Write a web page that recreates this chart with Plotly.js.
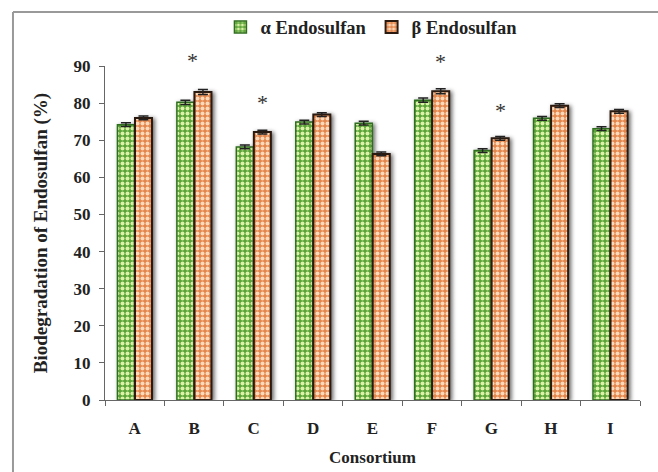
<!DOCTYPE html>
<html>
<head>
<meta charset="utf-8">
<script src="https://cdn.plot.ly/plotly-3.0.1.min.js"></script>
<style>
  html, body { margin: 0; padding: 0; background: #fff; }
  #chart { width: 658px; height: 472px; }
  /* soft shadow behind each bar */
  .barlayer .point path { filter: drop-shadow(2px 1px 2px rgba(0,0,0,0.6)); }
</style>
</head>
<body>
<div id="chart"></div>
<script>
// Consortium labels
const consortia = ['A', 'B', 'C', 'D', 'E', 'F', 'G', 'H', 'I'];

// Biodegradation (%) of each isomer
const alphaValues = [74.2, 80.2, 68.2, 74.9, 74.6, 80.8, 67.2, 75.9, 73.1];
const betaValues  = [76.0, 83.0, 72.2, 76.9, 66.3, 83.2, 70.5, 79.3, 77.8];

// Standard error
const alphaErr = [0.5, 0.6, 0.5, 0.5, 0.5, 0.6, 0.5, 0.5, 0.5];
const betaErr  = [0.5, 0.7, 0.5, 0.5, 0.5, 0.7, 0.5, 0.5, 0.5];

// Significance markers (height in %)
const starCats  = ['B', 'C', 'F', 'G'];
const starY     = [91.6, 80.2, 91.1, 78.0];
const starShift = [-2, 9, 9, 9];

// Y-axis ticks
const yTicks = [0, 10, 20, 30, 40, 50, 60, 70, 80, 90];
const yMax = 90;

const serifBold = 'Liberation Serif, Times New Roman, serif';

const alphaTrace = {
  type: 'bar',
  name: 'α Endosulfan',
  x: consortia,
  y: alphaValues,
  error_y: { type: 'data', array: alphaErr, visible: true, color: '#222', thickness: 1.5, width: 5 },
  marker: {
    color: '#5fa83a',
    line: { color: '#2f6e1f', width: 1.5 },
    pattern: { shape: '.', fillmode: 'replace', bgcolor: '#5aa437', fgcolor: '#dcf2a8', size: 5, solidity: 0.5 }
  }
};

const betaTrace = {
  type: 'bar',
  name: 'β Endosulfan',
  x: consortia,
  y: betaValues,
  error_y: { type: 'data', array: betaErr, visible: true, color: '#222', thickness: 1.5, width: 5 },
  marker: {
    color: '#e58a52',
    line: { color: '#2b1a10', width: 2 },
    pattern: { shape: '.', fillmode: 'replace', bgcolor: '#e4864c', fgcolor: '#fcd9ba', size: 5, solidity: 0.5 }
  }
};

const starAnnotations = starCats.map((c, i) => ({
  x: c, y: starY[i] / yMax, xref: 'x', yref: 'y domain',
  xanchor: 'center', yanchor: 'middle',
  text: '*', showarrow: false, xshift: starShift[i],
  font: { family: serifBold, size: 22, color: '#333' }
}));

const layout = {
  width: 658,
  height: 472,
  margin: { l: 105, r: 18, t: 66, b: 72 },
  paper_bgcolor: '#ffffff',
  plot_bgcolor: '#ffffff',
  barmode: 'group',
  bargap: 0.41,
  bargroupgap: 0.03,
  font: { family: serifBold, size: 17, color: '#222' },
  showlegend: true,
  legend: {
    orientation: 'h',
    xref: 'container', yref: 'container',
    x: 0.335, y: 0.942, xanchor: 'left', yanchor: 'middle',
    font: { family: serifBold, size: 18.5, color: '#222', weight: 'bold' },
    itemwidth: 30,
    bgcolor: 'rgba(0,0,0,0)'
  },
  xaxis: {
    type: 'category',
    showline: true, linecolor: '#666', linewidth: 1.2,
    ticks: 'outside', tickson: 'boundaries', ticklen: 5, tickcolor: '#666',
    ticklabelstandoff: 12,
    showgrid: false, zeroline: false,
    tickfont: { family: serifBold, size: 17, color: '#222', weight: 'bold' },
    title: { text: 'Consortium', standoff: 14, font: { family: serifBold, size: 17, color: '#222', weight: 'bold' } }
  },
  yaxis: {
    range: [0, yMax],
    tickvals: yTicks,
    showline: true, linecolor: '#666', linewidth: 1.2,
    ticks: 'outside', ticklen: 5, tickcolor: '#666',
    ticklabelstandoff: 5,
    showgrid: false, zeroline: false,
    tickfont: { family: serifBold, size: 17, color: '#222', weight: 'bold' },
    title: { text: 'Biodegradation of Endosulfan (%)', standoff: 20, font: { family: serifBold, size: 19, color: '#222', weight: 'bold' } }
  },
  annotations: starAnnotations,
  shapes: [
    // outer frame (left and top edges)
    { type: 'line', xref: 'paper', yref: 'paper', x0: -0.172, x1: -0.172, y0: 1.162, y1: -0.3, line: { color: '#999', width: 2 } },
    { type: 'line', xref: 'paper', yref: 'paper', x0: -0.172, x1: 1.1, y0: 1.162, y1: 1.162, line: { color: '#999', width: 2 } }
  ]
};

Plotly.newPlot('chart', [alphaTrace, betaTrace], layout, { displayModeBar: false, staticPlot: true });
</script>
</body>
</html>
